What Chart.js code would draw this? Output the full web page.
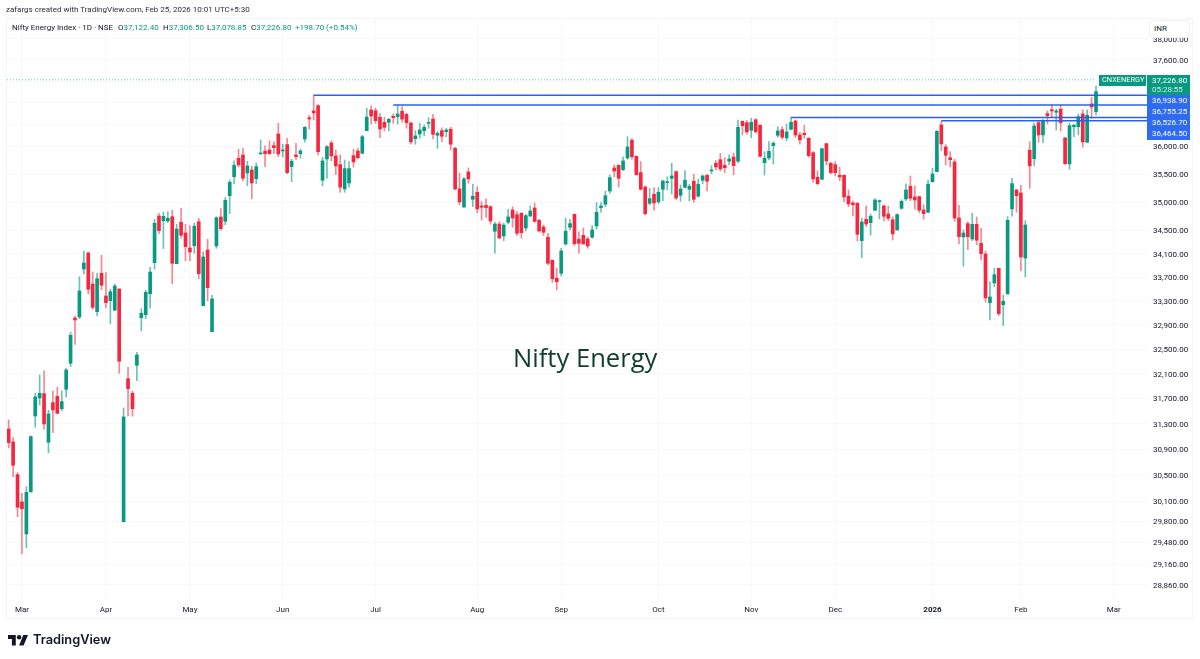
<!DOCTYPE html>
<html>
<head>
<meta charset="utf-8">
<title>Nifty Energy</title>
<script src="https://cdn.jsdelivr.net/npm/chart.js@4/dist/chart.umd.js"></script>
<style>
    html, body { margin: 0; padding: 0; background: #fff; }
    body { width: 1200px; height: 659px; position: relative; overflow: hidden; font-family: Roboto, sans-serif; color: #131722; }
    canvas { position: absolute; left: 0; top: 0; }
    .abs { position: absolute; white-space: nowrap; }
    #frame { left: 6px; top: 18px; width: 1187px; height: 601px; border: 1px solid #f4f5f8; box-sizing: border-box; pointer-events: none; }
    #credit { left: 6px; top: 4px; font-size: 8px; line-height: 11px; color: #2a2e39; }
    #legend { left: 12px; top: 22px; font-size: 8px; line-height: 11px; }
    #legend b { font-weight: 400; color: #089981; }
    #legend span { position: absolute; top: 0; }
    #unit { left: 1149px; top: 20px; width: 41px; height: 18px; box-sizing: border-box; background: #fff; border: 1px solid #eceef3; border-radius: 4px; font-size: 8px; line-height: 16px; padding-left: 4px; }
    #watermark { left: 513px; top: 340px; font-family: "Open Sans", sans-serif; font-size: 25.6px; line-height: 36px; color: #0f3d2e; }
    #logo { left: 8px; top: 634px; }
    #logotext { left: 33px; top: 630px; font-family: Inter, sans-serif; font-weight: 600; font-size: 12.8px; line-height: 20px; color: #131722; }
</style>
</head>
<body>
<canvas id="chart" width="1200" height="659"></canvas>
<div class="abs" id="frame"></div>
<div class="abs" id="credit">zafargs created with TradingView.com, Feb 25, 2026 10:01 UTC+5:30</div>
<div class="abs" id="legend">Nifty Energy Index · 1D · NSE
    <span style="left:106px">O<b>37,122.40</b></span>
    <span style="left:151px">H<b>37,306.50</b></span>
    <span style="left:195px">L<b>37,078.85</b></span>
    <span style="left:239px">C<b>37,226.80</b></span>
    <span style="left:283px"><b>+198.70 (+0.54%)</b></span>
</div>
<div class="abs" id="unit">INR</div>
<div class="abs" id="watermark">Nifty Energy</div>
<svg class="abs" id="logo" width="20" height="12" viewBox="0 0 36 20">
    <path d="M14 20H7V8H0V1h14v19zM28 20h-8l7.5-19H36l-8 19z" fill="#131722"/>
    <circle cx="20" cy="5" r="4" fill="#131722"/>
</svg>
<div class="abs" id="logotext">TradingView</div>

<script>
    // candles, oldest first
    const opens = [
        31220, 31017, 30510, 30093, 29611, 30245, 31425, 31712, 31781, 31012,
        31637, 31739, 31541, 31851, 32271, 33016, 33033, 33841, 34115, 33586,
        33121, 33768, 33384, 33305, 33144, 33502, 29795, 32021, 31787, 32238,
        33022, 33071, 33423, 33949, 34757, 34675, 34670, 34745, 33932, 34647,
        34461, 34201, 34241, 34657, 33221, 34167, 32789, 34236, 34740, 34664,
        35115, 35453, 35784, 35843, 35519, 35573, 35417, 35861, 35910, 35933,
        36012, 36224, 35915, 36030, 35633, 35843, 35866, 36133, 36522, 36647,
        36745, 35389, 35771, 36060, 35825, 35668, 35234, 35341, 35830, 35915,
        35873, 36284, 36665, 36652, 36529, 36438, 36438, 36548, 36540, 36641,
        36585, 36425, 36138, 36224, 36284, 36419, 36498, 36200, 36284, 36266,
        36310, 35964, 35234, 34916, 35537, 35051, 35175, 34933, 34945, 34921,
        34491, 34617, 34409, 34647, 34863, 34781, 34805, 34548, 34757, 34898,
        34682, 34565, 34387, 33990, 33683, 33768, 34271, 34560, 34787, 34352,
        34421, 34357, 34387, 34582, 34904, 34963, 35198, 35609, 35657, 35578,
        35789, 36109, 35819, 35525, 35269, 34981, 35140, 35004, 35228, 35346,
        35424, 35543, 35122, 35264, 35228, 35371, 35106, 35389, 35478, 35555,
        35693, 35758, 35657, 35730, 35807, 35730, 36456, 36431, 36291, 36485,
        36383, 35705, 35789, 36012, 36200, 36302, 36151, 36310, 36462, 36206,
        36236, 36146, 35884, 35442, 35407, 36048, 35693, 35668, 35478, 35478,
        35106, 34986, 34981, 34328, 34700, 34640, 34858, 35009, 34933, 34793,
        34692, 34513, 34893, 35057, 35282, 35092, 35098, 34863, 34823, 35364,
        35543, 36389, 35988, 35794, 35717, 34722, 34392, 34623, 34357, 34612,
        34283, 34098, 33272, 33604, 33853, 33238, 33418, 34881, 35216, 35163,
        34029, 35928, 35776, 36431, 36206, 36597, 36671, 36623, 36678, 36151,
        35681, 36357, 36357, 36591, 36073, 36776, 36634
    ];
    const highs = [
        31362, 31090, 30540, 30225, 30325, 31110, 31787, 32081, 32150, 31516,
        31820, 31883, 31824, 32190, 32779, 33049, 33710, 34150, 34133, 33790,
        33768, 34076, 33778, 33497, 33586, 33507, 31553, 32206, 31820, 32450,
        33171, 33480, 33870, 34700, 34805, 34828, 34833, 34858, 34612, 34893,
        34612, 34588, 34630, 34717, 34133, 34352, 33395, 34745, 34886, 35080,
        35394, 35735, 35946, 35964, 35730, 35640, 35699, 36115, 36006, 36097,
        36079, 36419, 36037, 36146, 35766, 36055, 35951, 36357, 36566, 36943,
        36763, 35802, 36012, 36102, 35933, 35843, 35753, 35722, 35946, 35964,
        36200, 36697, 36739, 36697, 36604, 36529, 36511, 36591, 36745, 36726,
        36604, 36438, 36284, 36419, 36389, 36522, 36585, 36266, 36334, 36328,
        36346, 35982, 35514, 35442, 35609, 35318, 35275, 35009, 35057, 34938,
        34652, 34657, 34630, 34875, 34921, 34833, 34816, 34787, 34933, 34981,
        34700, 34600, 34456, 33995, 33858, 34196, 34717, 34700, 34793, 34483,
        34548, 34392, 34588, 34992, 34992, 35198, 35483, 35663, 35663, 35807,
        36175, 36138, 35825, 35722, 35287, 35246, 35257, 35257, 35394, 35453,
        35693, 35555, 35305, 35560, 35318, 35496, 35407, 35483, 35489, 35651,
        35740, 35873, 35794, 35843, 35879, 36480, 36462, 36467, 36511, 36504,
        36389, 35902, 36084, 36084, 36357, 36357, 36407, 36529, 36480, 36255,
        36383, 36157, 35902, 35555, 35964, 36055, 35712, 35722, 35622, 35483,
        35216, 35021, 34992, 34717, 34933, 34793, 35057, 35039, 34951, 34933,
        34745, 34793, 35044, 35323, 35465, 35287, 35110, 34951, 35394, 35603,
        36284, 36456, 36030, 35902, 35766, 34945, 34513, 34657, 34805, 34740,
        34543, 34150, 33625, 33853, 33853, 33401, 34745, 35424, 35228, 35300,
        34675, 36084, 36419, 36467, 36493, 36647, 36758, 36678, 36758, 36164,
        36419, 36400, 36591, 36665, 36665, 36900, 37111
    ];
    const lows = [
        30923, 30479, 29870, 29314, 29407, 30245, 31247, 31600, 31216, 30850,
        31163, 31457, 31505, 31728, 32216, 32581, 33005, 33756, 33418, 33160,
        33049, 33485, 33183, 32922, 33144, 32109, 29795, 31425, 31420, 31989,
        32805, 33005, 33178, 33841, 34449, 34190, 34640, 33592, 33932, 34369,
        33983, 33983, 34110, 33676, 33221, 33305, 32789, 34196, 34508, 34606,
        34798, 35328, 35627, 35381, 35292, 35062, 35328, 35861, 35633, 35848,
        35866, 35812, 35807, 35507, 35364, 35758, 35784, 36073, 36315, 36480,
        35843, 35287, 35424, 35735, 35489, 35175, 35175, 35264, 35622, 35771,
        35861, 36284, 36407, 36419, 36157, 36279, 36284, 36419, 36407, 36438,
        36328, 36037, 36037, 36146, 36193, 36328, 36133, 35964, 36084, 36175,
        35933, 35216, 34951, 34904, 35336, 34921, 34816, 34687, 34734, 34612,
        34110, 34362, 34328, 34617, 34560, 34415, 34369, 34496, 34745, 34647,
        34478, 34415, 33910, 33615, 33485, 33722, 34248, 34513, 34241, 34110,
        34271, 34196, 34369, 34525, 34823, 34921, 35157, 35453, 35269, 35560,
        35766, 35766, 35478, 35216, 34775, 34951, 34858, 34981, 35027, 35216,
        35145, 35039, 35016, 35246, 35021, 34998, 35088, 35323, 35198, 35507,
        35573, 35555, 35525, 35663, 35489, 35699, 36206, 36219, 36157, 36236,
        35802, 35483, 35753, 35681, 36164, 36128, 36102, 36297, 36157, 36037,
        36146, 35802, 35353, 35305, 35394, 35663, 35501, 35465, 35381, 35009,
        34921, 34757, 34323, 34035, 34571, 34426, 34845, 34705, 34670, 34675,
        34340, 34513, 34875, 35027, 35027, 34875, 34816, 34700, 34816, 35353,
        35537, 35920, 35663, 35627, 34664, 34276, 33892, 34172, 34328, 34254,
        33995, 33283, 32983, 33541, 33055, 32889, 33418, 34752, 34823, 33812,
        33707, 35246, 35651, 36073, 36066, 36407, 36529, 36297, 36279, 35668,
        35586, 36175, 36206, 35988, 36066, 36511, 36573
    ];
    const closes = [
        31006, 30654, 30012, 29990, 30240, 31100, 31728, 31787, 31299, 31457,
        31521, 31468, 31653, 32162, 32730, 32983, 33468, 33944, 33497, 33194,
        33676, 33565, 33272, 33456, 33552, 32304, 31410, 31861, 31541, 32406,
        33094, 33446, 33790, 34630, 34501, 34752, 34717, 33939, 34530, 34421,
        34224, 34133, 34578, 33761, 34047, 33524, 33334, 34727, 34536, 35034,
        35353, 35657, 35663, 35424, 35645, 35341, 35633, 35879, 35866, 35866,
        35975, 35861, 35933, 35525, 35730, 35812, 35915, 36346, 36498, 36610,
        35902, 35735, 35993, 35825, 35645, 35264, 35597, 35597, 35717, 35794,
        36175, 36535, 36553, 36467, 36315, 36346, 36493, 36522, 36591, 36498,
        36431, 36079, 36188, 36297, 36346, 36431, 36219, 36236, 36182, 36297,
        36037, 35234, 35004, 35412, 35412, 35106, 34881, 34910, 34904, 34670,
        34617, 34374, 34600, 34740, 34722, 34456, 34466, 34763, 34845, 34664,
        34496, 34473, 33939, 33676, 33625, 34150, 34491, 34623, 34276, 34283,
        34271, 34236, 34513, 34823, 34933, 35115, 35435, 35555, 35424, 35735,
        35988, 35812, 35489, 35228, 34798, 35062, 34986, 35175, 35376, 35364,
        35465, 35074, 35234, 35389, 35282, 35051, 35318, 35465, 35371, 35573,
        35627, 35591, 35614, 35771, 35651, 36346, 36376, 36261, 36438, 36266,
        35819, 35784, 35910, 36055, 36279, 36164, 36261, 36438, 36206, 36115,
        36211, 35830, 35412, 35328, 35957, 35735, 35525, 35525, 35448, 35092,
        34969, 34956, 34438, 34652, 34617, 34752, 35039, 35027, 34752, 34717,
        34444, 34781, 35016, 35216, 35069, 35039, 34858, 34798, 35318, 35501,
        36273, 36042, 35837, 35758, 34722, 34397, 34461, 34397, 34612, 34335,
        34103, 33351, 33368, 33744, 33088, 33295, 34682, 35328, 35115, 34047,
        34600, 35645, 36370, 36206, 36456, 36560, 36647, 36647, 36431, 35686,
        36376, 36383, 36540, 36079, 36566, 36721, 37005
    ];

    const priceTicks = [38000, 37600, 37200, 36800, 36400, 36000, 35500, 35000, 34500, 34100, 33700, 33300, 32900, 32500, 32100, 31700, 31300, 30900, 30500, 30100, 29800, 29480, 29160, 28860];
    const coveredTicks = [37200, 36800, 36400];

    // month starts, as candle numbers
    const monthTicks = [3, 22, 41, 62, 83, 106, 125, 147, 168, 187, 209, 229, 250];
    const monthLabels = ["Mar", "Apr", "May", "Jun", "Jul", "Aug", "Sep", "Oct", "Nov", "Dec", "2026", "Feb", "Mar"];

    const levelPrices = [36938.9, 36755.25, 36526.7, 36464.5];
    const levelStarts = [69, 87, 177, 211];
    const lastPrice = 37226.8;
    const countdown = "05:28:55";
    const symbol = "CNXENERGY";

    const UP = "#089981";
    const DOWN = "#f7263f";
    const BLUE = "#2962e8";
    const GRID = "#f7f8f9";
    const xMin = -0.385;
    const xMax = 257.76;

    const fmt = (v) => v.toLocaleString("en-US", { minimumFractionDigits: 2, maximumFractionDigits: 2 });
    const candleColors = closes.map((c, i) => (c >= opens[i] ? UP : DOWN));
    const wickColors = closes.map((c, i) => (c >= opens[i] ? "rgba(8,153,129,.6)" : "rgba(242,54,69,.6)"));

    const hLine = (price, from, color, extra) => ({
        type: "line",
        order: 0,
        data: [{ x: from, y: price }, { x: xMax, y: price }],
        borderColor: color,
        borderWidth: 1.5,
        pointRadius: 0,
        ...extra,
    });

    // price tags in the right hand axis
    const priceTags = {
        id: "priceTags",
        afterDraw(chart) {
            const ctx = chart.ctx;
            const y = chart.scales.y;
            const last = Math.round(y.getPixelForValue(lastPrice));
            const left = 1147;
            ctx.save();
            ctx.textBaseline = "middle";

            ctx.fillStyle = UP;
            ctx.fillRect(left, last - 5, 43, 20);
            ctx.fillRect(1099, last - 5, 47, 11);
            ctx.fillStyle = "#fff";
            ctx.font = "7.4px Roboto";
            ctx.fillText(symbol, 1102, last + 0.5);
            ctx.font = "8px Roboto";
            ctx.fillText(fmt(lastPrice), left + 5, last + 0.5);
            ctx.fillStyle = "rgba(255,255,255,.8)";
            ctx.fillText(countdown, left + 5, last + 9.5);

            ctx.fillStyle = "#2e6bf0";
            ctx.fillRect(left, last + 15, 43, 45);
            ctx.fillStyle = "#fff";
            levelPrices.forEach((p, i) => {
                ctx.fillText(fmt(p), left + 5, last + 20.5 + i * 11);
            });
            ctx.restore();
        },
    };

    new Chart(document.getElementById("chart").getContext("2d"), {
        type: "bar",
        data: {
            datasets: [
                {
                    order: 3,
                    grouped: false,
                    barThickness: 1,
                    backgroundColor: wickColors,
                    data: highs.map((h, i) => ({ x: i, y: [lows[i], h] })),
                },
                {
                    order: 2,
                    grouped: false,
                    barThickness: 3,
                    minBarLength: 1,
                    backgroundColor: candleColors,
                    data: opens.map((o, i) => ({ x: i, y: [o, closes[i]] })),
                },
                hLine(lastPrice, xMin, "rgba(8,153,129,.55)", { borderWidth: 1, borderDash: [1, 2], data: [{ x: xMin, y: lastPrice }, { x: 246, y: lastPrice }] }),
                ...levelPrices.map((p, i) => hLine(p, levelStarts[i], BLUE)),
            ],
        },
        options: {
            responsive: false,
            devicePixelRatio: 1,
            animation: false,
            layout: { padding: { left: 7, top: 18, right: 7, bottom: 40 } },
            plugins: { legend: { display: false }, tooltip: { enabled: false } },
            scales: {
                x: {
                    type: "linear",
                    offset: false,
                    min: xMin,
                    max: xMax,
                    border: { display: false },
                    grid: { offset: false, color: GRID, drawTicks: false },
                    afterBuildTicks: (scale) => {
                        scale.ticks = monthTicks.map((value) => ({ value }));
                    },
                    afterFit: (scale) => {
                        scale.height = 19;
                    },
                    ticks: {
                        autoSkip: false,
                        maxRotation: 0,
                        padding: 5,
                        color: "#131722",
                        font: (ctx) => ({ family: "Roboto", size: 8, weight: ctx.tick && ctx.tick.value === monthTicks[10] ? "bold" : "normal" }),
                        callback: (value) => monthLabels[monthTicks.indexOf(value)],
                    },
                },
                y: {
                    type: "logarithmic",
                    position: "right",
                    min: 28642,
                    max: 38404,
                    border: { display: false },
                    grid: { color: GRID, drawTicks: false },
                    afterBuildTicks: (scale) => {
                        scale.ticks = priceTicks.map((value) => ({ value }));
                    },
                    afterFit: (scale) => {
                        scale.width = 45;
                    },
                    ticks: {
                        autoSkip: false,
                        crossAlign: "near",
                        padding: 5,
                        labelOffset: 0.7,
                        color: "#131722",
                        font: { family: "Roboto", size: 8 },
                        callback: (value) => (coveredTicks.includes(value) ? "" : fmt(value)),
                    },
                },
            },
        },
        plugins: [priceTags],
    });
</script>
</body>
</html>
